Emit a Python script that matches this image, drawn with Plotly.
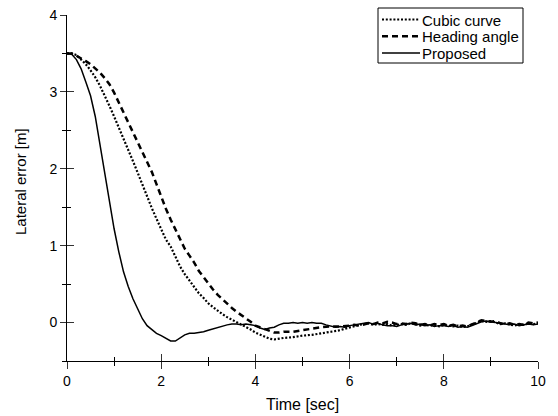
import plotly.graph_objects as go

# ---- data ----
t_proposed = [0.0, 0.1, 0.2, 0.3, 0.4, 0.5, 0.6, 0.7, 0.8, 0.9, 1.0, 1.1, 1.2, 1.3, 1.4, 1.5, 1.6, 1.7,
              1.8, 1.9, 2.0, 2.1, 2.2, 2.3, 2.4, 2.5, 2.6, 2.7, 2.8, 2.9, 3.0, 3.1, 3.2, 3.3, 3.4, 3.5,
              3.6, 3.7, 3.8, 3.9, 4.0, 4.1, 4.2, 4.3, 4.4, 4.5, 4.6, 4.7, 4.8, 4.9, 5.0, 5.1, 5.2, 5.3,
              5.4, 5.5, 5.6, 5.7, 5.8, 5.9, 6.0, 6.1, 6.2, 6.3, 6.4, 6.5, 6.6, 6.7, 6.8, 6.9, 7.0, 7.1,
              7.2, 7.3, 7.4, 7.5, 7.6, 7.7, 7.8, 7.9, 8.0, 8.1, 8.2, 8.3, 8.4, 8.5, 8.6, 8.7, 8.8, 8.9,
              9.0, 9.1, 9.2, 9.3, 9.4, 9.5, 9.6, 9.7, 9.8, 9.9, 10.0]
e_proposed = [3.50, 3.49, 3.42, 3.30, 3.13, 2.95, 2.68, 2.32, 1.95, 1.58, 1.22, 0.92, 0.66, 0.47, 0.31,
              0.18, 0.05, -0.04, -0.09, -0.14, -0.17, -0.21, -0.24, -0.24, -0.20, -0.16, -0.14, -0.14,
              -0.13, -0.12, -0.10, -0.08, -0.06, -0.05, -0.03, -0.02, -0.02, -0.03, -0.02, -0.03, -0.04,
              -0.07, -0.09, -0.07, -0.06, -0.03, -0.01, -0.01, 0.00, -0.01, 0.00, -0.01, 0.00, -0.01,
              -0.01, -0.03, -0.05, -0.06, -0.05, -0.06, -0.04, -0.03, -0.02, -0.01, 0.00, -0.02, -0.01,
              -0.03, -0.04, -0.04, -0.05, -0.03, -0.02, -0.01, -0.03, -0.02, -0.04, -0.03, -0.05, -0.04,
              -0.04, -0.05, -0.04, -0.06, -0.05, -0.06, -0.04, -0.01, 0.01, 0.02, 0.01, 0.00, -0.01,
              -0.02, -0.03, -0.02, -0.04, -0.03, -0.02, -0.03, -0.02]

t_cubic = [0.0, 0.1, 0.2, 0.3, 0.4, 0.5, 0.6, 0.7, 0.8, 0.9, 1.0, 1.1, 1.2, 1.3, 1.4, 1.5, 1.6, 1.7,
           1.8, 1.9, 2.0, 2.1, 2.2, 2.3, 2.4, 2.5, 2.6, 2.7, 2.8, 2.9, 3.0, 3.1, 3.2, 3.3, 3.4, 3.5,
           3.6, 3.7, 3.8, 3.9, 4.0, 4.1, 4.2, 4.3, 4.4, 4.5, 4.6, 4.8, 5.0, 5.2, 5.4, 5.6, 5.8, 5.9,
           6.0, 6.1, 6.2, 6.3, 6.4, 6.5, 6.6, 6.7, 6.8, 6.9, 7.0, 7.1, 7.2, 7.3, 7.4, 7.5, 7.6, 7.7,
           7.8, 7.9, 8.0, 8.1, 8.2, 8.3, 8.4, 8.5, 8.6, 8.7, 8.8, 8.9, 9.0, 9.1, 9.2, 9.3, 9.4, 9.5,
           9.6, 9.7, 9.8, 9.9, 10.0]
e_cubic = [3.50, 3.50, 3.48, 3.42, 3.36, 3.28, 3.19, 3.08, 2.96, 2.82, 2.68, 2.54, 2.40, 2.25, 2.10,
           1.95, 1.79, 1.63, 1.49, 1.35, 1.21, 1.08, 0.99, 0.85, 0.73, 0.63, 0.55, 0.46, 0.38, 0.32,
           0.25, 0.20, 0.15, 0.11, 0.07, 0.04, 0.01, -0.02, -0.05, -0.09, -0.13, -0.16, -0.19, -0.21,
           -0.22, -0.21, -0.20, -0.19, -0.17, -0.16, -0.14, -0.12, -0.10, -0.08, -0.06, -0.05, -0.03,
           -0.02, -0.01, -0.03, -0.02, -0.03, -0.02, -0.04, -0.03, -0.02, -0.03, -0.01, -0.02, -0.04,
           -0.03, -0.04, -0.03, -0.05, -0.03, -0.04, -0.05, -0.04, -0.06, -0.05, -0.03, 0.00, 0.02,
           0.01, 0.02, 0.00, -0.02, -0.01, -0.03, -0.04, -0.02, -0.03, -0.01, -0.02, -0.01]

t_heading = [0.0, 0.1, 0.2, 0.3, 0.4, 0.5, 0.6, 0.7, 0.8, 0.9, 1.0, 1.1, 1.2, 1.3, 1.4, 1.5, 1.6, 1.7,
             1.8, 1.9, 2.0, 2.1, 2.2, 2.3, 2.4, 2.5, 2.6, 2.7, 2.8, 2.9, 3.0, 3.1, 3.2, 3.3, 3.4, 3.5,
             3.6, 3.7, 3.8, 3.9, 4.0, 4.1, 4.2, 4.3, 4.4, 4.5, 4.6, 4.8, 5.0, 5.2, 5.4, 5.6, 5.8, 6.0,
             6.1, 6.2, 6.3, 6.4, 6.5, 6.6, 6.7, 6.8, 6.9, 7.0, 7.1, 7.2, 7.3, 7.4, 7.5, 7.6, 7.7, 7.8,
             7.9, 8.0, 8.1, 8.2, 8.3, 8.4, 8.5, 8.6, 8.7, 8.8, 8.9, 9.0, 9.1, 9.2, 9.3, 9.4, 9.5, 9.6,
             9.7, 9.8, 9.9, 10.0]
e_heading = [3.50, 3.50, 3.47, 3.44, 3.40, 3.36, 3.31, 3.25, 3.18, 3.10, 2.99, 2.86, 2.74, 2.61, 2.48,
             2.35, 2.22, 2.09, 1.96, 1.80, 1.63, 1.48, 1.34, 1.21, 1.08, 0.96, 0.87, 0.78, 0.67, 0.59,
             0.50, 0.43, 0.36, 0.30, 0.24, 0.19, 0.14, 0.10, 0.06, 0.01, -0.04, -0.06, -0.08, -0.11,
             -0.13, -0.13, -0.12, -0.12, -0.10, -0.08, -0.06, -0.05, -0.05, -0.04, -0.03, -0.04, -0.02,
             -0.01, -0.02, 0.00, -0.01, 0.01, 0.00, -0.02, -0.01, -0.02, 0.00, -0.01, -0.03, -0.02,
             -0.04, -0.02, -0.03, -0.02, -0.04, -0.03, -0.05, -0.04, -0.05, -0.02, 0.00, 0.03, 0.02,
             0.01, 0.02, -0.01, -0.02, -0.01, -0.03, -0.02, -0.03, 0.00, -0.01, 0.00]

series_names = ["Cubic curve", "Heading angle", "Proposed"]
x_ticks = [0, 2, 4, 6, 8, 10]
y_ticks = [0, 1, 2, 3, 4]
x_range = [0, 10]
y_range = [-0.5, 4]

FONT = "Liberation Sans, Arial, sans-serif"
W, H = 558, 416
ML, MR, MT, MB = 67, 20, 15, 55
PW, PH = W - ML - MR, H - MT - MB

styles = [dict(color="black", width=2.2, dash="2px,1.8px"),
          dict(color="black", width=2.5, dash="6px,4px"),
          dict(color="black", width=1.5, dash="solid")]

fig = go.Figure()
for name, tx, ey, st in zip(series_names, [t_cubic, t_heading, t_proposed],
                            [e_cubic, e_heading, e_proposed], styles):
    fig.add_trace(go.Scatter(x=tx, y=ey, mode="lines", name=name, line=st, showlegend=False))
# dummy trace to host the overlaying axes (inside half of crossing ticks)
fig.add_trace(go.Scatter(x=[None], y=[None], xaxis="x2", yaxis="y2", showlegend=False,
                         hoverinfo="skip"))


def px2paper(px, py):
    return (px - ML) / PW, (H - MB - py) / PH


# custom legend box (pixel layout of the reference legend)
shapes = []
annotations = []
bx0, by0 = px2paper(378, 8)
bx1, by1 = px2paper(523, 63)
shapes.append(dict(type="rect", xref="paper", yref="paper", x0=bx0, y0=by1, x1=bx1, y1=by0,
                   line=dict(color="black", width=1), fillcolor="white", layer="above"))
for i, (name, st) in enumerate(zip(series_names, styles)):
    rowy = 19.5 + i * 16.7
    lx0, ly = px2paper(382, rowy)
    lx1, _ = px2paper(420, rowy)
    shapes.append(dict(type="line", xref="paper", yref="paper", x0=lx0, x1=lx1, y0=ly, y1=ly,
                       line=dict(color="black", width=st["width"], dash=st["dash"]),
                       layer="above"))
    tx0, ty = px2paper(420, rowy + 0.5)
    annotations.append(dict(text=name, xref="paper", yref="paper", x=tx0, y=ty, xanchor="left",
                            yanchor="middle", showarrow=False,
                            font=dict(family=FONT, size=15, color="black")))

annotations += [
    dict(text="Time [sec]", xref="paper", yref="paper", x=0.5, y=0, yshift=-43,
         xanchor="center", yanchor="middle", showarrow=False,
         font=dict(family=FONT, size=16, color="black")),
    dict(text="Lateral error [m]", xref="paper", yref="paper", x=0, y=0.5, xshift=-47,
         yshift=6, textangle=-90, xanchor="center", yanchor="middle", showarrow=False,
         font=dict(family=FONT, size=15, color="black")),
]

tickfont = dict(family=FONT, size=14, color="black")
fig.update_layout(
    width=W, height=H,
    margin=dict(l=ML, r=MR, t=MT, b=MB, autoexpand=False),
    paper_bgcolor="white", plot_bgcolor="white",
    font=dict(family=FONT, color="black"),
    showlegend=False,
    xaxis=dict(range=x_range, tickvals=x_ticks, ticks="outside", ticklen=7, tickwidth=1,
               tickcolor="#333", showline=True, linecolor="black", linewidth=1,
               showgrid=False, zeroline=False, tickfont=tickfont,
               minor=dict(dtick=1, tick0=0, ticks="outside", ticklen=4, tickcolor="black",
                          showgrid=False)),
    yaxis=dict(range=y_range, tickvals=y_ticks, ticks="outside", ticklen=6, tickwidth=1,
               tickcolor="#333", showline=True, linecolor="black", linewidth=1,
               showgrid=False, zeroline=False, tickfont=tickfont,
               minor=dict(dtick=0.5, tick0=0, ticks="outside", ticklen=4, tickcolor="black",
                          showgrid=False)),
    xaxis2=dict(range=x_range, overlaying="x", anchor="y2", tickvals=x_ticks, ticks="inside",
                ticklen=7, tickwidth=1, tickcolor="#333", showticklabels=False,
                showline=False, showgrid=False, zeroline=False,
                minor=dict(dtick=1, tick0=0, ticks="inside", ticklen=4, tickcolor="black",
                           showgrid=False)),
    yaxis2=dict(range=y_range, overlaying="y", anchor="x2", tickvals=y_ticks, ticks="inside",
                ticklen=7, tickwidth=1, tickcolor="#333", showticklabels=False,
                showline=False, showgrid=False, zeroline=False,
                minor=dict(dtick=0.5, tick0=0, ticks="inside", ticklen=4, tickcolor="black",
                           showgrid=False)),
    shapes=shapes,
    annotations=annotations,
)

fig.write_html("out.html",
               config={"displayModeBar": False},
               post_script="document.body.style.margin='0px';"
                           "document.body.style.overflow='hidden';")
